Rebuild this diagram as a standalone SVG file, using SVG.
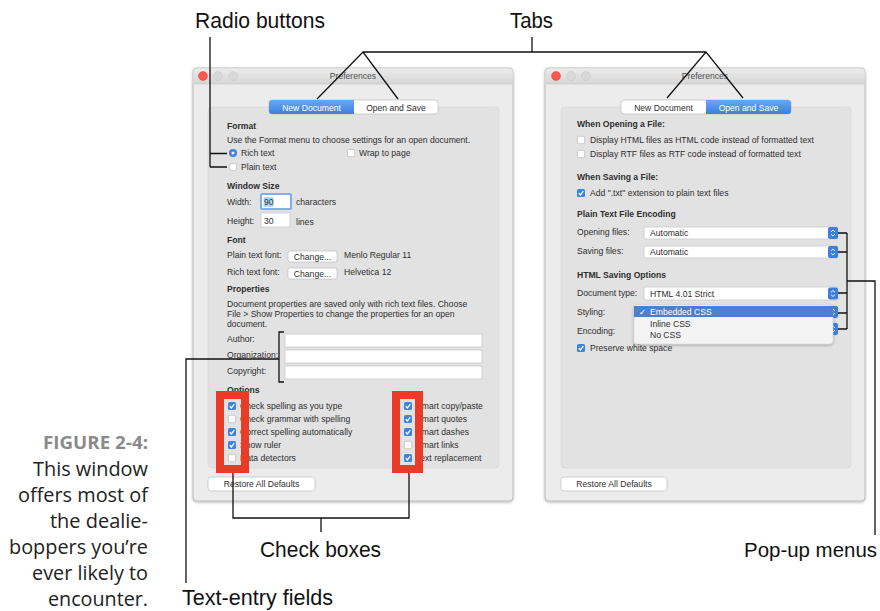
<svg xmlns="http://www.w3.org/2000/svg" xmlns:xlink="http://www.w3.org/1999/xlink" width="880" height="611" viewBox="0 0 880 611">
<defs>
<linearGradient id="tbar" x1="0" y1="0" x2="0" y2="1"><stop offset="0" stop-color="#ebebeb"/><stop offset="1" stop-color="#d6d6d6"/></linearGradient>
<linearGradient id="blueSeg" x1="0" y1="0" x2="0" y2="1"><stop offset="0" stop-color="#6aa6f2"/><stop offset="1" stop-color="#3b7fe2"/></linearGradient>
<g id="cbOn"><rect x="0" y="0" width="8" height="8" rx="1.6" fill="#3d84e0"/><path d="M1.8,4.2 L3.4,5.9 L6.3,2.2" fill="none" stroke="#fff" stroke-width="1.3"/></g>
<g id="cbOff"><rect x="0.3" y="0.3" width="7.4" height="7.4" rx="1.6" fill="#fff" stroke="#b0b0b0" stroke-width="0.6"/></g>
<g id="stepper"><rect width="10" height="12" rx="2" fill="#3d7fdc"/><path d="M3,4.8 L5,3 L7,4.8 M3,7.2 L5,9 L7,7.2" stroke="#fff" fill="none" stroke-width="0.9"/></g>
<filter id="shadow" x="-10%" y="-10%" width="120%" height="130%"><feDropShadow dx="0" dy="1" stdDeviation="1.5" flood-color="#000" flood-opacity="0.3"/></filter>
</defs>
<style>
.ui{font-family:"Liberation Sans","DejaVu Sans",sans-serif;font-size:8.6px;fill:#2e2e2e}
.b{font-weight:bold}
.wt{fill:#fff}
.ttl{fill:#4d4d4d;text-anchor:middle}
.mid{text-anchor:middle}
.win{fill:#ececec;stroke:#b3b3b3;stroke-width:0.8}
.panel{fill:#e2e2e2;stroke:#d6d6d6;stroke-width:0.6}
.field{fill:#fff;stroke:#c6c6c6;stroke-width:0.7}
.btn{fill:#fff;stroke:#bdbdbd;stroke-width:0.7}
.lbl{font-family:"Liberation Sans","Roboto",sans-serif;font-size:22px;fill:#111}
.cap{font-family:"Open Sans","Noto Sans",sans-serif;font-size:20.5px;fill:#222;text-anchor:end}
.capb{font-family:"Open Sans","Noto Sans",sans-serif;font-size:17px;font-weight:bold;fill:#8a8a8a;text-anchor:end}
.con{fill:none;stroke:#111;stroke-width:1.3}
.red{fill:none;stroke:#ea3a28;stroke-width:8}
</style>
<rect width="880" height="611" fill="#fff"/>

<g id="caption">
<text class="capb" x="148" y="449" textLength="105" lengthAdjust="spacingAndGlyphs">FIGURE 2-4:</text>
<text class="cap" x="148" y="476" textLength="115" lengthAdjust="spacingAndGlyphs">This window</text>
<text class="cap" x="148" y="502" textLength="130" lengthAdjust="spacingAndGlyphs">offers most of</text>
<text class="cap" x="148" y="528" textLength="98" lengthAdjust="spacingAndGlyphs">the dealie-</text>
<text class="cap" x="148" y="554" textLength="139" lengthAdjust="spacingAndGlyphs">boppers you’re</text>
<text class="cap" x="148" y="580" textLength="116" lengthAdjust="spacingAndGlyphs">ever likely to</text>
<text class="cap" x="148" y="606" textLength="100" lengthAdjust="spacingAndGlyphs">encounter.</text>
</g>

<g id="window-new-document">
<rect class="win" x="193" y="68" width="320" height="433" rx="4" filter="url(#shadow)"/>
<path d="M193.4,84 V72 Q193.4,68.4 197,68.4 H509 Q512.6,68.4 512.6,72 V84 Z" fill="url(#tbar)"/>
<line x1="193.4" y1="84" x2="512.6" y2="84" stroke="#c4c4c4" stroke-width="0.6"/>
<circle cx="203" cy="76" r="4.5" fill="#fc5650" stroke="#e0443e" stroke-width="0.5"/>
<circle cx="218" cy="76" r="4.5" fill="#d9d9d9" stroke="#c6c6c6" stroke-width="0.5"/>
<circle cx="233" cy="76" r="4.5" fill="#d9d9d9" stroke="#c6c6c6" stroke-width="0.5"/>
<text class="ui ttl" x="353" y="79">Preferences</text>
<rect class="panel" x="208" y="107" width="291" height="361" rx="4"/>
<rect x="269" y="100" width="169" height="14" rx="3" fill="#fff" stroke="#bdbdbd" stroke-width="0.7"/>
<path d="M272,100 H354 V114 H272 Q269,114 269,111 V103 Q269,100 272,100 Z" fill="url(#blueSeg)"/>
<text class="ui wt mid" x="311.5" y="110.5">New Document</text>
<text class="ui mid" x="396" y="110.5" fill="#222">Open and Save</text>
<text class="ui b" x="227" y="129">Format</text>
<text class="ui" x="227" y="143">Use the Format menu to choose settings for an open document.</text>
<circle cx="233" cy="153" r="4" fill="#3d84e0"/><circle cx="233" cy="153" r="1.5" fill="#fff"/>
<text class="ui" x="241" y="156">Rich text</text>
<use xlink:href="#cbOff" x="347" y="149"/>
<text class="ui" x="359" y="156">Wrap to page</text>
<circle cx="233" cy="167" r="3.8" fill="#fff" stroke="#b0b0b0" stroke-width="0.6"/>
<text class="ui" x="241" y="170">Plain text</text>
<text class="ui b" x="227" y="189">Window Size</text>
<text class="ui" x="227" y="205">Width:</text>
<rect x="261" y="194" width="30" height="15" fill="#fff" stroke="#7eaef0" stroke-width="2" rx="1"/>
<rect x="263.5" y="197" width="10" height="10" fill="#b6d4fb"/>
<text class="ui" x="264" y="205">90</text>
<text class="ui" x="296" y="205">characters</text>
<text class="ui" x="227" y="224">Height:</text>
<rect class="field" x="261" y="213" width="29" height="14"/>
<text class="ui" x="264" y="224">30</text>
<text class="ui" x="296" y="225">lines</text>
<text class="ui b" x="227" y="243">Font</text>
<text class="ui" x="227" y="258">Plain text font:</text>
<rect class="btn" x="288" y="251" width="49" height="11" rx="2"/>
<text class="ui mid" x="312.5" y="259.5">Change...</text>
<text class="ui" x="344" y="258">Menlo Regular 11</text>
<text class="ui" x="227" y="275">Rich text font:</text>
<rect class="btn" x="288" y="268" width="49" height="11" rx="2"/>
<text class="ui mid" x="312.5" y="276.5">Change...</text>
<text class="ui" x="344" y="275">Helvetica 12</text>
<text class="ui b" x="227" y="292">Properties</text>
<text class="ui" x="227" y="307">Document properties are saved only with rich text files. Choose</text>
<text class="ui" x="227" y="317">File &gt; Show Properties to change the properties for an open</text>
<text class="ui" x="227" y="327">document.</text>
<text class="ui" x="227" y="342">Author:</text>
<rect class="field" x="285" y="334" width="197" height="13"/>
<text class="ui" x="227" y="358">Organization:</text>
<rect class="field" x="285" y="350" width="197" height="13"/>
<text class="ui" x="227" y="374">Copyright:</text>
<rect class="field" x="285" y="366" width="197" height="13"/>
<text class="ui b" x="227" y="393">Options</text>
<use xlink:href="#cbOn" x="228" y="402"/><text class="ui" x="240" y="409">Check spelling as you type</text>
<use xlink:href="#cbOff" x="228" y="415"/><text class="ui" x="240" y="422">Check grammar with spelling</text>
<use xlink:href="#cbOn" x="228" y="428"/><text class="ui" x="240" y="435">Correct spelling automatically</text>
<use xlink:href="#cbOn" x="228" y="441"/><text class="ui" x="240" y="448">Show ruler</text>
<use xlink:href="#cbOff" x="228" y="454"/><text class="ui" x="240" y="461">Data detectors</text>
<use xlink:href="#cbOn" x="404" y="402"/><text class="ui" x="416" y="409">Smart copy/paste</text>
<use xlink:href="#cbOn" x="404" y="415"/><text class="ui" x="416" y="422">Smart quotes</text>
<use xlink:href="#cbOn" x="404" y="428"/><text class="ui" x="416" y="435">Smart dashes</text>
<use xlink:href="#cbOff" x="404" y="441"/><text class="ui" x="416" y="448">Smart links</text>
<use xlink:href="#cbOn" x="404" y="454"/><text class="ui" x="416" y="461">Text replacement</text>
<rect class="btn" x="208" y="477" width="107" height="14" rx="3"/>
<text class="ui mid" x="261.5" y="487" fill="#222">Restore All Defaults</text>
</g>

<g id="window-open-and-save">
<rect class="win" x="545" y="68" width="320" height="433" rx="4" filter="url(#shadow)"/>
<path d="M545.4,84 V72 Q545.4,68.4 549,68.4 H861 Q864.6,68.4 864.6,72 V84 Z" fill="url(#tbar)"/>
<line x1="545.4" y1="84" x2="864.6" y2="84" stroke="#c4c4c4" stroke-width="0.6"/>
<circle cx="556" cy="76" r="4.5" fill="#fc5650" stroke="#e0443e" stroke-width="0.5"/>
<circle cx="571" cy="76" r="4.5" fill="#d9d9d9" stroke="#c6c6c6" stroke-width="0.5"/>
<circle cx="586" cy="76" r="4.5" fill="#d9d9d9" stroke="#c6c6c6" stroke-width="0.5"/>
<text class="ui ttl" x="705" y="79">Preferences</text>
<rect class="panel" x="561" y="107" width="290" height="361" rx="4"/>
<rect x="621" y="100" width="170" height="14" rx="3" fill="#fff" stroke="#bdbdbd" stroke-width="0.7"/>
<path d="M706,100 H788 Q791,100 791,103 V111 Q791,114 788,114 H706 Z" fill="url(#blueSeg)"/>
<text class="ui mid" x="663.5" y="110.5" fill="#222">New Document</text>
<text class="ui wt mid" x="748.5" y="110.5">Open and Save</text>
<text class="ui b" x="577" y="127">When Opening a File:</text>
<use xlink:href="#cbOff" x="577" y="136"/><text class="ui" x="590" y="143">Display HTML files as HTML code instead of formatted text</text>
<use xlink:href="#cbOff" x="577" y="150"/><text class="ui" x="590" y="157">Display RTF files as RTF code instead of formatted text</text>
<text class="ui b" x="577" y="180">When Saving a File:</text>
<use xlink:href="#cbOn" x="577" y="189"/><text class="ui" x="590" y="196">Add ".txt" extension to plain text files</text>
<text class="ui b" x="577" y="217">Plain Text File Encoding</text>
<text class="ui" x="577" y="235">Opening files:</text>
<rect class="field" x="644" y="227" width="194" height="12" rx="2"/>
<use xlink:href="#stepper" x="828" y="227"/>
<text class="ui" x="650" y="236">Automatic</text>
<text class="ui" x="577" y="254">Saving files:</text>
<rect class="field" x="644" y="246" width="194" height="12" rx="2"/>
<use xlink:href="#stepper" x="828" y="246"/>
<text class="ui" x="650" y="255">Automatic</text>
<text class="ui b" x="577" y="278">HTML Saving Options</text>
<text class="ui" x="577" y="296">Document type:</text>
<rect class="field" x="644" y="287" width="194" height="13" rx="2"/>
<use xlink:href="#stepper" x="828" y="287.5"/>
<text class="ui" x="650" y="296.5">HTML 4.01 Strict</text>
<text class="ui" x="577" y="315">Styling:</text>
<rect class="field" x="644" y="306" width="194" height="12" rx="2"/>
<use xlink:href="#stepper" x="828" y="306"/>
<text class="ui" x="577" y="334">Encoding:</text>
<rect class="field" x="644" y="323" width="194" height="12" rx="2"/>
<use xlink:href="#stepper" x="828" y="323"/>
<rect x="634" y="305" width="199" height="39" rx="3" fill="#f3f3f3" stroke="#cfcfcf" stroke-width="0.5" filter="url(#shadow)"/>
<rect x="634" y="306" width="199" height="11" fill="#4b7fcf"/>
<text class="ui wt" x="639" y="315">✓</text>
<text class="ui wt" x="650" y="315">Embedded CSS</text>
<text class="ui" x="650" y="327">Inline CSS</text>
<text class="ui" x="650" y="338">No CSS</text>
<use xlink:href="#cbOn" x="577" y="344"/><text class="ui" x="590" y="351">Preserve white space</text>
<rect class="btn" x="561" y="477" width="106" height="14" rx="3"/>
<text class="ui mid" x="614" y="487" fill="#222">Restore All Defaults</text>
</g>

<g id="highlight-boxes">
<rect class="red" x="220" y="395" width="25" height="74"/>
<rect class="red" x="396" y="395" width="23" height="74"/>
</g>

<g id="connectors">
<path class="con" d="M210,37 V167 M210,153.5 H227 M210,167 H227"/>
<path class="con" d="M532,37 V52 M363,52 H706 M317,99 L363,52 L398,99 M667,98 L706,52 L743,98"/>
<path class="con" d="M284,332 H279 V382 H284 M279,359 H186 V583"/>
<path class="con" d="M233,473 V518 H409 V473 M321,518 V532"/>
<path class="con" d="M838,233 H847 M838,252 H847 M838,293 H847 M838,313 H847 M838,329 H847 M847,233 V329 M847,281 H875 V535"/>
</g>

<g id="label-radio-buttons"><text class="lbl" x="195" y="28" textLength="130" lengthAdjust="spacingAndGlyphs">Radio buttons</text></g>
<g id="label-tabs"><text class="lbl" x="510" y="28" textLength="43" lengthAdjust="spacingAndGlyphs">Tabs</text></g>
<g id="label-check-boxes"><text class="lbl" x="260" y="557" textLength="121" lengthAdjust="spacingAndGlyphs">Check boxes</text></g>
<g id="label-text-entry-fields"><text class="lbl" x="182" y="605" textLength="151" lengthAdjust="spacingAndGlyphs">Text-entry fields</text></g>
<g id="label-pop-up-menus"><text class="lbl" x="744" y="557" style="font-size:20.5px" textLength="133" lengthAdjust="spacingAndGlyphs">Pop-up menus</text></g>
</svg>
